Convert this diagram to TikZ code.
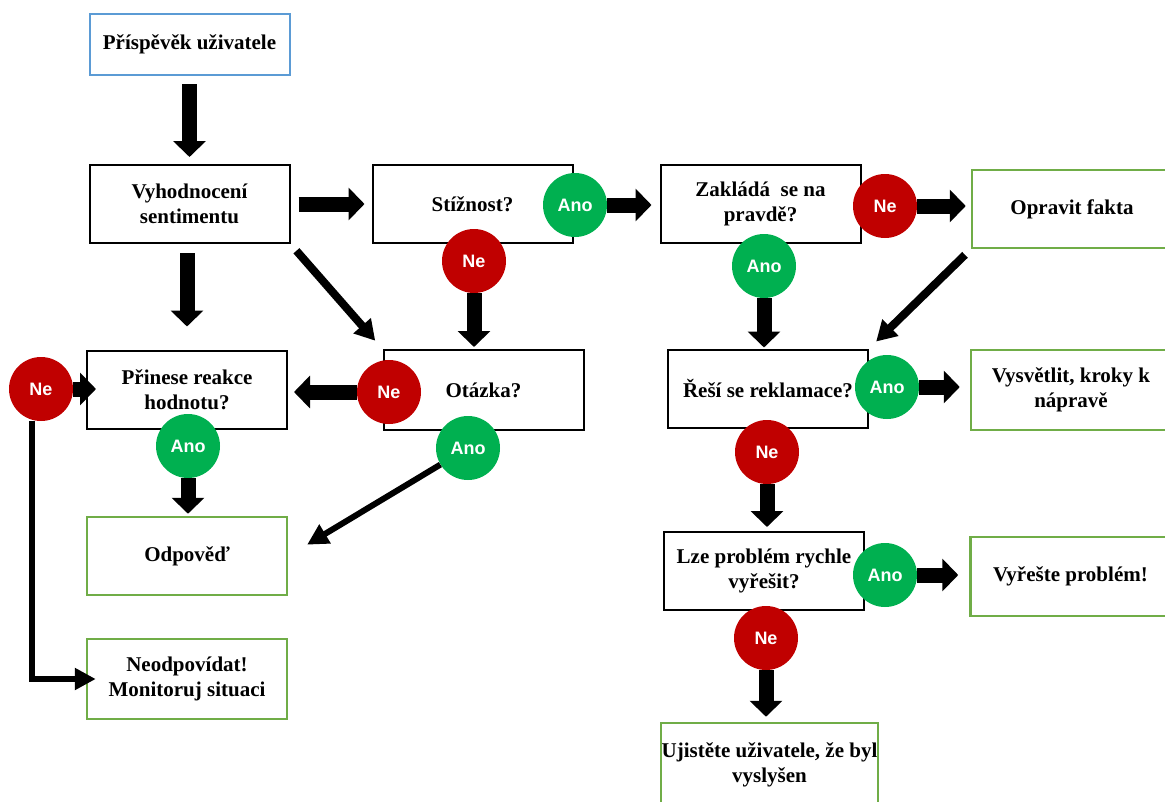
\documentclass[tikz,border=0pt]{standalone}
\usepackage{fontspec}
\setmainfont{Liberation Serif}
\newfontfamily\circfont{Liberation Sans}
\usetikzlibrary{arrows.meta,positioning}

\definecolor{anogreen}{HTML}{00B050}
\definecolor{nered}{HTML}{C00000}
\definecolor{endgreen}{HTML}{70AD47}
\definecolor{startblue}{HTML}{5B9BD5}

\begin{document}
\begin{tikzpicture}[
  x=1pt, y=-1pt,
  >=Triangle,
  box/.style={rectangle, draw=black, line width=2pt, align=center, minimum width=200pt, minimum height=78pt, inner sep=0pt, font=\fontsize{21}{25}\selectfont\bfseries},
  startbox/.style={box, draw=startblue, minimum height=61pt},
  endbox/.style={box, draw=endgreen, line width=2.5pt},
  ano/.style={circle, fill=anogreen, minimum size=64pt, inner sep=0pt, text=white, font=\circfont\fontsize{18}{18}\selectfont\bfseries},
  ne/.style={ano, fill=nered},
  blk/.style={line width=15pt, -{Triangle[width=32pt,length=16pt]}},
  diag/.style={line width=8pt, -{Triangle[width=22pt,length=20pt]}},
  slimarrow/.style={line width=6pt, -{Triangle[width=21pt,length=21pt]}}
]
\useasboundingbox (0,0) rectangle (1165,801);

% boxes
\node[startbox] (prisp) at (189.5,44.5) {Příspěvěk uživatele};
\node[box] (vyhod) at (189.5,204) {Vyhodnocení\\sentimentu};
\node[box] (stiz) at (472.5,204) {Stížnost?};
\node[box] (zaklada) at (760.5,204) {Zakládá\ \ se na\\pravdě?};
\node[endbox, minimum width=200pt] (opravit) at (1072,209) {Opravit fakta};
\node[box] (prinese) at (187,389.5) {Přinese reakce\\hodnotu?};
\node[box, minimum height=80pt] (otazka) at (483.5,390) {Otázka?};
\node[box] (reseni) at (768,388.5) {Řeší se reklamace?};
\node[endbox, minimum height=80pt] (vysvetlit) at (1071,390) {Vysvětlit, kroky k\\nápravě};
\node[endbox] (odpoved) at (187,556) {Odpověď};
\node[endbox, minimum height=80pt] (neodp) at (187,679) {Neodpovídat!\\Monitoruj situaci};
\node[box] (lze) at (764,571) {Lze problém rychle\\vyřešit?};
\node[endbox, minimum height=79pt] (vyreste) at (1070.5,576.5) {Vyřešte problém!};
\node[endbox, minimum width=217pt, minimum height=84pt] (ujistete) at (769.5,765) {Ujistěte uživatele, že byl\\vyslyšen};

% answers
\node[ano] (anoStiz) at (575,205) {Ano};
\node[ne] (neStiz) at (474,261) {Ne};
\node[ne] (neZakl) at (885,206) {Ne};
\node[ano] (anoZakl) at (764,266) {Ano};
\node[ne] (nePrin) at (41,389) {Ne};
\node[ano] (anoPrin) at (188,446) {Ano};
\node[ne] (neOtaz) at (389,392) {Ne};
\node[ano] (anoOtaz) at (468,448) {Ano};
\node[ano] (anoRes) at (887,387) {Ano};
\node[ne] (neRes) at (767,452) {Ne};
\node[ano] (anoLze) at (885,575) {Ano};
\node[ne] (neLze) at (766,638) {Ne};

% connectors
\draw[blk, shorten <=8pt, shorten >=7pt] (prisp) -- (vyhod);
\draw[blk, shorten <=8pt, shorten >=7pt] (vyhod) -- (stiz);
\draw[blk, shorten >=8pt] (anoStiz) -- (anoStiz -| zaklada.west);
\draw[blk, shorten >=5pt] (neZakl) -- (neZakl -| opravit.west);
\draw[diag, shorten <=8pt, shorten >=10pt] (opravit.south west) -- (reseni.north east);
\draw[blk, shorten >=1pt] (anoZakl) -- (anoZakl |- reseni.north);
\draw[blk, shorten <=9pt, shorten >=23pt] (vyhod.south -| prinese) -- (prinese);
\draw[diag, shorten <=9pt, shorten >=11pt] (vyhod.south east) -- (otazka.north west);
\draw[blk, shorten >=2pt] (neStiz) -- (neStiz |- otazka.north);
\draw[blk, shorten >=6pt] (neOtaz) -- (neOtaz -| prinese.east);
\draw[slimarrow, shorten >=22pt] (anoOtaz) -- (odpoved.east);
\draw[blk, shorten >=2pt] (anoPrin) -- (anoPrin |- odpoved.north);
\draw[blk, shorten >=-10pt] (nePrin) -- (nePrin -| prinese.west);
\draw[slimarrow, shorten >=-10pt] ([xshift=-9pt]nePrin.south) |- (neodp.west);
\draw[blk, shorten >=10pt] (anoRes) -- (anoRes -| vysvetlit.west);
\draw[blk, shorten >=4pt] (neRes) -- (neRes |- lze.north);
\draw[blk, shorten >=11pt] (anoLze) -- (anoLze -| vyreste.west);
\draw[blk, shorten >=5pt] (neLze) -- (neLze |- ujistete.north);
\end{tikzpicture}
\end{document}
